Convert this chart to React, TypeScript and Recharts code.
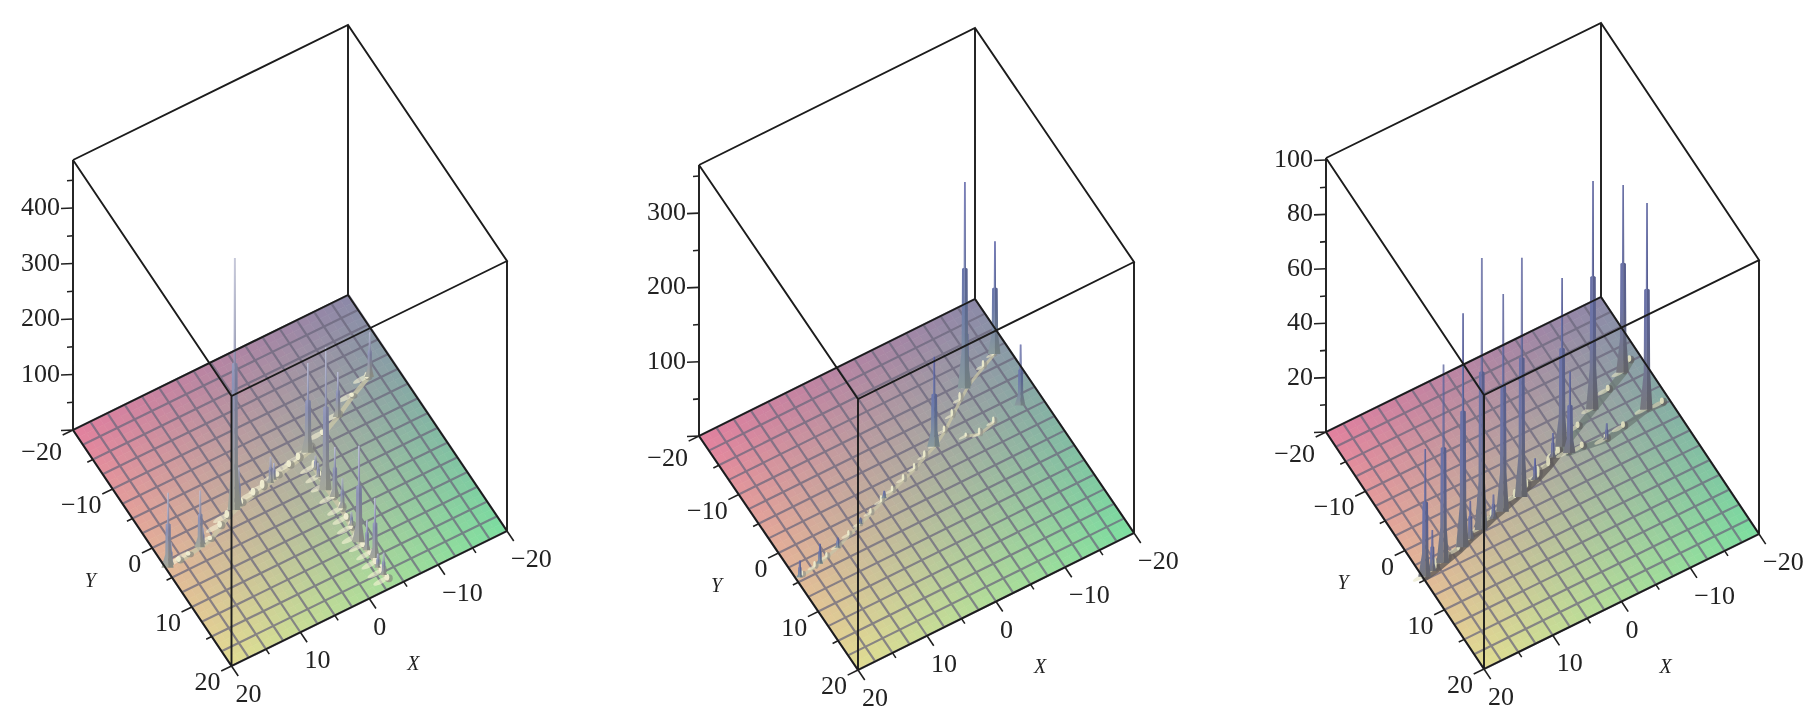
import { ComposedChart, Line, Scatter, XAxis, YAxis } from 'recharts'

type Peak = [number, number, number]
type Pt = [number, number]
type Frame = { left: Pt; back: Pt; front: Pt; right: Pt; kz: number; height: number }

const WIDTH = 1819
const HEIGHT = 725

const gridTicks = [-20, -17.5, -15, -12.5, -10, -7.5, -5, -2.5, 0, 2.5, 5, 7.5, 10, 12.5, 15, 17.5, 20]
const majorTicks = [-20, -10, 0, 10, 20]
const minorTicks = [-15, -5, 5, 15]

const zMajorOne = [100, 200, 300, 400]
const zMinorOne = [50, 150, 250, 350, 450]
const zMajorTwo = [100, 200, 300]
const zMinorTwo = [50, 150, 250, 350]
const zMajorThree = [20, 40, 60, 80, 100]
const zMinorThree = [10, 30, 50, 70, 90]

// X, Y, height
const spikesOne: Peak[] = [
  [19.7, 3.5, 135], [19.2, 3.3, 40], [14.7, 2.9, 102], [14.2, 2.7, 30], [8.2, 0.3, 454], [7.5, 0.1, 70],
  [2.3, -0.9, 47], [1.7, -1.1, 30], [-4, -2.4, 162], [-3.2, 3.5, 258], [-9.9, -5.1, 81], [-16.3, -8.2, 81],
  [-3.7, 4.9, 90], [-3.7, 6.8, 54], [-3, 12.2, 174], [-3.3, 13.7, 54], [-3.6, 15.2, 108], [-3.3, 17.9, 40],
  [-3.4, 9.6, 25], [-3.3, 1.4, 27], [-3.6, 0.2, 25], [-3.4, 11, 22], [-3.2, 16.6, 25],
]
const ridgeOne: Peak[] = [
  [18, 3.4, 8], [16.5, 3.2, 6], [13, 2.6, 6], [11, 1.6, 10], [9.5, 0.8, 12], [7, 0, 10], [5, -0.4, 12], [3.5, -0.7, 14],
  [1, -1.3, 8], [-1, -1.8, 10], [-2.5, -2.1, 12], [-4.5, -2.5, 14],
]
const ridgeOneB: Peak[] = [
  [-3.6, 0, 14], [-3.5, 1.5, 12], [-3.4, 3, 14], [-3.5, 5, 16], [-3.5, 7, 14], [-3.4, 8.5, 10], [-3.2, 10, 14],
  [-3, 11.5, 10], [-3.2, 13, 10], [-3.4, 14.5, 10], [-3.3, 16, 12], [-3.3, 17.5, 14], [-3.4, 18.8, 10],
]
const ridgeOneC: Peak[] = [[-7, -3.8, 8], [-10, -5.2, 10], [-13, -6.8, 6], [-16, -8.2, 10]]

const spikesTwo: Peak[] = [
  [-12.3, -9.2, 278], [-12.6, -9.5, 120], [-18.1, -11.7, 152], [-4.7, -3.7, 121], [-17.1, -3.5, 82],
  [19.5, 4.5, 23], [16.3, 4, 27], [13.2, 3.1, 14], [9, 1.5, 9], [4.5, -0.3, 10],
]
const ridgeTwo: Peak[] = [
  [19, 4.4, 6], [17, 4.1, 7], [15, 3.6, 6], [13, 3, 7], [11, 2.2, 6], [9, 1.5, 8], [7, 0.8, 6], [5, 0, 8], [3, -0.7, 6],
  [1, -1.4, 7], [-1, -2.1, 7], [-3, -3, 8], [-5, -3.8, 10], [-7, -5, 7], [-9, -6.5, 8], [-11, -8, 10], [-13, -9.4, 12],
  [-16, -10.8, 8], [-18, -11.7, 10],
]
const ridgeTwoB: Peak[] = [[-9, -3, 4], [-10.6, -2.4, 8], [-13, -3, 7]]

const spikesThree: Peak[] = [
  [19.7, 4.6, 47], [16.7, 4, 73], [13.4, 3.2, 86], [10.3, 1.6, 11], [10.1, 2.2, 100], [6.4, 1.2, 80], [3.3, 0.5, 88],
  [0.6, -0.85, 8], [-4.8, -3.4, 62], [-5.2, -2.1, 30], [-10.9, -6.2, 84], [-16.9, -9, 69], [-16.8, -2.8, 76],
  [-10.2, -1.5, 6], [18.5, 4.3, 15], [12, 2.6, 14], [8, 1.5, 9], [-3, -2.6, 9],
]
const ridgeThree: Peak[] = [
  [19.7, 4.6, 3], [18, 4.3, 4], [16, 3.8, 3], [14, 3.3, 4], [12, 2.6, 3], [10, 2, 4], [8, 1.3, 3], [6, 0.8, 4], [4, 0.2, 3],
  [2, -0.4, 3], [0, -1, 4], [-2, -1.8, 3], [-4, -2.8, 3],
]
const ridgeThreeB: Peak[] = [[-4, -2.8, 2], [-6, -3.8, 2], [-8, -4.8, 2], [-11, -6.2, 3], [-14, -7.6, 2], [-17, -9, 3], [-18.5, -10, 2]]
const ridgeThreeC: Peak[] = [[-5, -2.2, 2], [-7, -2, 2], [-10.2, -1.5, 2], [-13, -2, 2], [-16.8, -2.8, 3], [-19, -2.6, 2]]

const frameOne: Frame = { left: [73, 430], back: [348, 295], front: [231.5, 666], right: [507, 531], kz: 0.555, height: 270 }
const frameTwo: Frame = { left: [699, 436], back: [975, 299], front: [858, 670], right: [1134, 533], kz: 0.743, height: 271 }
const frameThree: Frame = { left: [1326, 432], back: [1601, 297], front: [1484, 669], right: [1759, 534], kz: 2.72, height: 274 }

// corner colours of the floor
const PINK = [226, 128, 158]
const YELLOW = [226, 220, 146]
const GREEN = [124, 222, 160]
const PURPLE = [140, 136, 168]

const project = (f: Frame, X: number, Y: number, Z = 0) => {
  const cx = (f.left[0] + f.right[0]) / 2
  const cy = (f.left[1] + f.right[1]) / 2
  const ux = [(f.front[0] - f.right[0]) / 40, (f.front[1] - f.right[1]) / 40]
  const uy = [(f.front[0] - f.left[0]) / 40, (f.front[1] - f.left[1]) / 40]
  return { x: cx + X * ux[0] + Y * uy[0], y: cy + X * ux[1] + Y * uy[1] - Z * f.kz }
}

const floorColor = (X: number, Y: number) => {
  const a = (X + 20) / 40
  const b = (Y + 20) / 40
  const c = [0, 1, 2].map((i) =>
    Math.round(a * (1 - b) * PINK[i] + a * b * YELLOW[i] + (1 - a) * b * GREEN[i] + (1 - a) * (1 - b) * PURPLE[i]),
  )
  return `rgb(${c[0]},${c[1]},${c[2]})`
}

const segments = (list: { x: number; y: number }[][]) => {
  const out: { x: number; y: number | null }[] = []
  list.forEach((seg) => {
    seg.forEach((p) => out.push(p))
    out.push({ x: seg[seg.length - 1].x, y: null })
  })
  return out
}

const FLOOR_STEP = 1.25
const floorCenters: number[] = []
for (let v = -20 + FLOOR_STEP / 2; v < 20; v += FLOOR_STEP) floorCenters.push(v)

const SpikeShape = (props: any) => {
  const { cx, cy, payload, grad } = props
  const h = payload.h
  const w = Math.min(1.3 + h / 60, 2.8)
  const flare = Math.min(3 + h / 20, 7)
  const m1 = cy + h * 0.42
  const m2 = cy + h * 0.82
  const b = cy + h
  const left = `${cx - 0.8},${cy} ${cx - 1.1},${m1 - 1} ${cx - w},${m1} ${cx - w * 1.15},${m2} ${cx - flare},${b} ${cx},${b} ${cx},${cy}`
  const right = `${cx + 0.8},${cy} ${cx + 1.1},${m1 - 1} ${cx + w},${m1} ${cx + w * 1.15},${m2} ${cx + flare * 0.8},${b} ${cx},${b} ${cx},${cy}`
  return (
    <g>
      <polygon points={left} fill={`url(#${grad})`} />
      <polygon points={right} fill={`url(#${grad})`} />
      <polygon points={right} fill='#000' fillOpacity={0.16} />
    </g>
  )
}

const BumpShape = (props: any) => {
  const { cx, cy, payload, light, dark, scale } = props
  const h = payload.h
  return (
    <g>
      <ellipse cx={cx - 5 * scale} cy={cy + h + 1} rx={7 * scale} ry={1.9 * scale} fill={light} fillOpacity={0.6} transform={`rotate(-27 ${cx - 5 * scale} ${cy + h + 1})`} />
      <ellipse cx={cx + 1} cy={cy + h / 2 + 1} rx={3 * scale} ry={h / 2 + 1.2} fill={dark} fillOpacity={0.6} />
      <ellipse cx={cx - 1} cy={cy + h / 2} rx={1.8 * scale} ry={h / 2 + 0.6} fill={light} fillOpacity={0.9} />
    </g>
  )
}

const FloorCell = (props: any) => {
  const { cx, cy, payload, frame } = props
  const p0 = project(frame, payload.X, payload.Y)
  const p = [
    project(frame, payload.X - FLOOR_STEP / 2, payload.Y - FLOOR_STEP / 2),
    project(frame, payload.X + FLOOR_STEP / 2, payload.Y - FLOOR_STEP / 2),
    project(frame, payload.X + FLOOR_STEP / 2, payload.Y + FLOOR_STEP / 2),
    project(frame, payload.X - FLOOR_STEP / 2, payload.Y + FLOOR_STEP / 2),
  ]
  const pts = p.map((q) => `${cx + q.x - p0.x},${cy + q.y - p0.y}`).join(' ')
  const fill = floorColor(payload.X, payload.Y)
  return <polygon points={pts} fill={fill} stroke={fill} strokeWidth={0.7} />
}

const TickText = (props: any) => {
  const { cx, cy, payload, anchor } = props
  return (
    <text x={cx} y={cy} textAnchor={anchor} fontFamily='"Liberation Serif"' fontSize={26} fill='#222'>
      {payload.label}
    </text>
  )
}

const AxisName = (props: any) => {
  const { cx, cy, payload } = props
  return (
    <text x={cx} y={cy} textAnchor='middle' fontFamily='"Liberation Serif"' fontStyle='italic' fontSize={20} fill='#222'>
      {payload.label}
    </text>
  )
}

const fmt = (v: number) => (v < 0 ? `\u2212${-v}` : `${v}`)

function makeSeries(
  id: string,
  frame: Frame,
  spikes: Peak[],
  ridges: Peak[][],
  zMajor: number[],
  zMinor: number[],
  ridgeStroke: string[],
  ridgeWidth: number[],
  light: string,
  dark: string,
  bumpScale: number,
) {
  const floorData = floorCenters.flatMap((X) =>
    floorCenters.map((Y) => ({ ...project(frame, X, Y), X, Y })),
  )
  const grid = segments(
    gridTicks.flatMap((t) => [
      [project(frame, t, -20), project(frame, t, 20)],
      [project(frame, -20, t), project(frame, 20, t)],
    ]),
  )
  const [l, b, f, r] = [frame.left, frame.back, frame.front, frame.right].map((c) => ({ x: c[0], y: c[1] }))
  const up = (p: { x: number; y: number }) => ({ x: p.x, y: p.y - frame.height })
  const box = segments([
    [l, b],
    [b, r],
    [r, f],
    [f, l],
    [up(l), up(b), up(r), up(f), up(l)],
    [l, up(l)],
    [b, up(b)],
    [r, up(r)],
    [f, up(f)],
  ])
  const offs = (p: { x: number; y: number }, dx: number, dy: number) => ({ x: p.x + dx, y: p.y + dy })
  const yTick = (t: number, s: number) => [project(frame, 20, t), project(frame, 20 + s, t)]
  const xTick = (t: number, s: number) => [project(frame, t, 20), project(frame, t, 20 + s)]
  const zTick = (t: number, s: number) => {
    const p = project(frame, 20, -20, t)
    return [p, offs(p, -s, 0.5)]
  }
  const ticks = segments([
    ...majorTicks.flatMap((t) => [yTick(t, 1.5), xTick(t, 1.7)]),
    ...minorTicks.flatMap((t) => [yTick(t, 0.8), xTick(t, 0.85)]),
    ...zMajor.map((t) => zTick(t, 12)),
    ...zMinor.map((t) => zTick(t, 6)),
    zTick(0, 12),
  ])
  const zLabels = zMajor.map((t) => ({ ...offs(project(frame, 20, -20, t), -13, 7), label: fmt(t) }))
  const yLabels = majorTicks.map((t) => ({ ...offs(project(frame, 20, t), -11, t === -20 ? 30 : 24), label: fmt(t) }))
  const xLabels = majorTicks.map((t) => ({ ...offs(project(frame, t, 20), 4, 36), label: fmt(t) }))
  const names = [
    { ...offs(project(frame, 20, 1), -66, 33), label: 'Y' },
    { ...offs(project(frame, 1, 20), 51, 68), label: 'X' },
  ]
  const spikeData = spikes
    .map(([X, Y, Z]) => ({ ...project(frame, X, Y, Z), h: Z * frame.kz, base: project(frame, X, Y).y }))
    .sort((p, q) => p.base - q.base)
  const bumpData = ridges
    .flat()
    .map(([X, Y, Z]) => ({ ...project(frame, X, Y, Z), h: Z * frame.kz, base: project(frame, X, Y).y }))
    .sort((p, q) => p.base - q.base)

  return [
    <Scatter key={`${id}-floor`} data={floorData} isAnimationActive={false} zIndex={10} shape={(p: any) => <FloorCell {...p} frame={frame} />} />,
    <Line key={`${id}-grid`} data={grid} dataKey='y' dot={false} activeDot={false} stroke='#6a667c' strokeOpacity={0.74} strokeWidth={2.2} isAnimationActive={false} zIndex={20} />,
    ...ridges.map((ridge, i) => (
      <Line
        key={`${id}-ridge-${i}`}
        data={ridge.map(([X, Y]) => project(frame, X, Y))}
        dataKey='y'
        dot={false}
        activeDot={false}
        stroke={ridgeStroke[Math.min(i, ridgeStroke.length - 1)]}
        strokeOpacity={0.8}
        strokeWidth={ridgeWidth[Math.min(i, ridgeWidth.length - 1)]}
        strokeLinecap='round'
        isAnimationActive={false}
        zIndex={25}
      />
    )),
    <Scatter key={`${id}-bumps`} data={bumpData} isAnimationActive={false} zIndex={30} shape={(p: any) => <BumpShape {...p} light={light} dark={dark} scale={bumpScale} />} />,
    <Scatter key={`${id}-spikes`} data={spikeData} isAnimationActive={false} zIndex={40} shape={(p: any) => <SpikeShape {...p} grad={`spike-${id}`} />} />,
    <Line key={`${id}-box`} data={box} dataKey='y' dot={false} activeDot={false} stroke='#1c1c1c' strokeWidth={1.9} isAnimationActive={false} zIndex={50} />,
    <Line key={`${id}-ticks`} data={ticks} dataKey='y' dot={false} activeDot={false} stroke='#222' strokeWidth={1.6} isAnimationActive={false} zIndex={50} />,
    <Scatter key={`${id}-zlab`} data={zLabels} isAnimationActive={false} zIndex={60} shape={(p: any) => <TickText {...p} anchor='end' />} />,
    <Scatter key={`${id}-ylab`} data={yLabels} isAnimationActive={false} zIndex={60} shape={(p: any) => <TickText {...p} anchor='end' />} />,
    <Scatter key={`${id}-xlab`} data={xLabels} isAnimationActive={false} zIndex={60} shape={(p: any) => <TickText {...p} anchor='start' />} />,
    <Scatter key={`${id}-names`} data={names} isAnimationActive={false} zIndex={60} shape={(p: any) => <AxisName {...p} />} />,
  ]
}

export default function App() {
  return (
    <div style={{ position: 'absolute', left: 0, top: 0, width: WIDTH, height: HEIGHT, background: '#fff', filter: 'blur(0.55px)' }}>
      <ComposedChart width={WIDTH} height={HEIGHT} margin={{ top: 0, right: 0, bottom: 0, left: 0 }}>
        <defs>
          <linearGradient id='spike-one' x1='0' y1='0' x2='0' y2='1'>
            <stop offset='0' stopColor='#c4c7e0' />
            <stop offset='0.5' stopColor='#8d92b6' />
            <stop offset='1' stopColor='#a4a79a' />
          </linearGradient>
          <linearGradient id='spike-two' x1='0' y1='0' x2='0' y2='1'>
            <stop offset='0' stopColor='#6269b4' />
            <stop offset='0.6' stopColor='#6d7caa' />
            <stop offset='1' stopColor='#8a9a9c' />
          </linearGradient>
          <linearGradient id='spike-three' x1='0' y1='0' x2='0' y2='1'>
            <stop offset='0' stopColor='#666eae' />
            <stop offset='0.65' stopColor='#6d74a6' />
            <stop offset='1' stopColor='#77787e' />
          </linearGradient>
        </defs>
        <XAxis type='number' dataKey='x' domain={[0, WIDTH]} hide />
        <YAxis type='number' dataKey='y' domain={[0, HEIGHT]} reversed hide />
        {makeSeries('one', frameOne, spikesOne, [ridgeOne, ridgeOneB, ridgeOneC], zMajorOne, zMinorOne, ['#c9c6a8'], [4.5], '#f6f4d6', '#7d7d78', 1.3)}
        {makeSeries('two', frameTwo, spikesTwo, [ridgeTwo, ridgeTwoB], zMajorTwo, zMinorTwo, ['#c7c3a6'], [3], '#f1efcf', '#8b8b86', 0.7)}
        {makeSeries('three', frameThree, spikesThree, [ridgeThree, ridgeThreeB, ridgeThreeC], zMajorThree, zMinorThree, ['#5f5a58', '#6f7d78', '#6f7d78'], [8, 7, 6], '#e4e3c2', '#5e5a5a', 1.1)}
      </ComposedChart>
    </div>
  )
}
